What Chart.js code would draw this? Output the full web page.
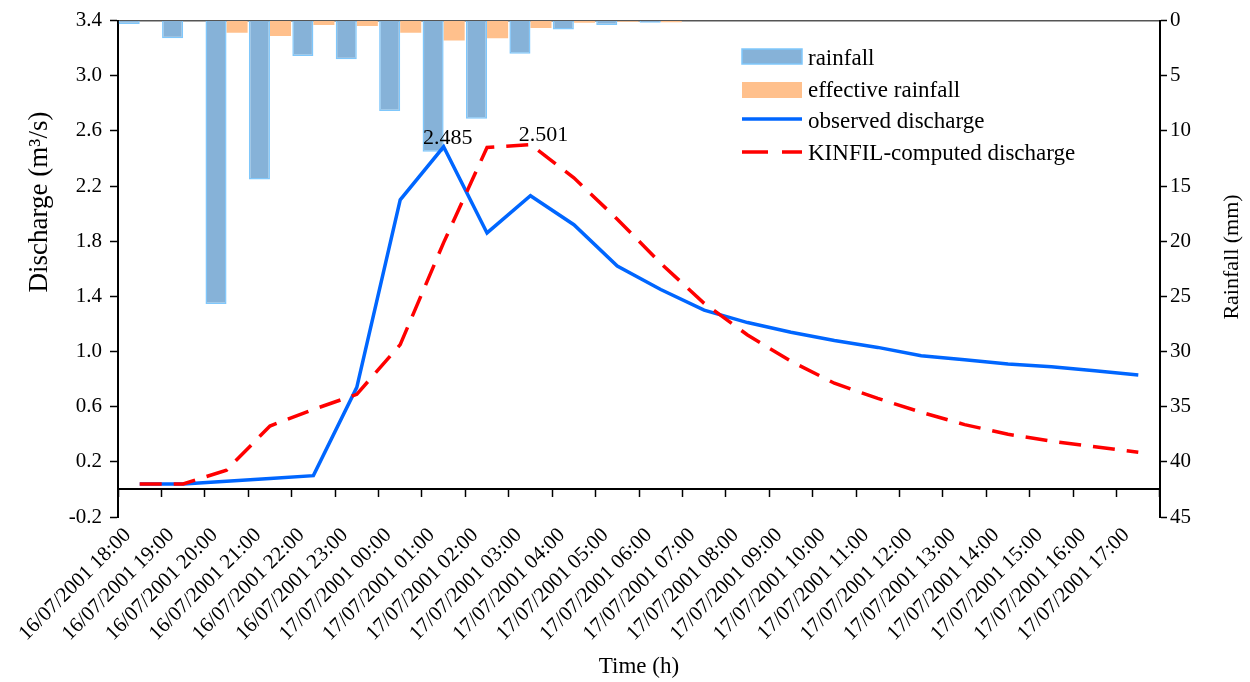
<!DOCTYPE html>
<html>
<head>
<meta charset="utf-8">
<script src="https://cdn.jsdelivr.net/npm/chart.js@4.4.1/dist/chart.umd.min.js"></script>
<style>
  html, body { margin: 0; padding: 0; background: #fff; }
</style>
</head>
<body>
<canvas id="chart" width="1250" height="682"></canvas>
<script>
// Hourly time steps
const timeLabels = [
    '16/07/2001 18:00', '16/07/2001 19:00', '16/07/2001 20:00', '16/07/2001 21:00',
    '16/07/2001 22:00', '16/07/2001 23:00', '17/07/2001 00:00', '17/07/2001 01:00',
    '17/07/2001 02:00', '17/07/2001 03:00', '17/07/2001 04:00', '17/07/2001 05:00',
    '17/07/2001 06:00', '17/07/2001 07:00', '17/07/2001 08:00', '17/07/2001 09:00',
    '17/07/2001 10:00', '17/07/2001 11:00', '17/07/2001 12:00', '17/07/2001 13:00',
    '17/07/2001 14:00', '17/07/2001 15:00', '17/07/2001 16:00', '17/07/2001 17:00'
];

// Rainfall (mm), right axis
const rainfall = [0.3, 1.6, 25.7, 14.4, 3.2, 3.5, 8.2, 11.9, 8.9, 3.0, 0.8, 0.4,
                  0.2, 0, 0, 0, 0, 0, 0, 0, 0, 0, 0, 0];
const effectiveRainfall = [0, 0, 1.1, 1.4, 0.4, 0.5, 1.1, 1.8, 1.6, 0.66, 0.2, 0.1,
                           0.15, 0, 0, 0, 0, 0, 0, 0, 0, 0, 0, 0];

// Discharge (m3/s), left axis
const observedDischarge = [0.04, 0.04, 0.06, 0.08, 0.10, 0.74, 2.10, 2.485, 1.86, 2.13, 1.92, 1.62,
                           1.45, 1.30, 1.21, 1.14, 1.08, 1.03, 0.97, 0.94, 0.91, 0.89, 0.86, 0.83];
const kinfilDischarge = [0.04, 0.04, 0.14, 0.46, 0.58, 0.69, 1.05, 1.79, 2.48, 2.501, 2.26, 1.96,
                         1.64, 1.35, 1.12, 0.93, 0.77, 0.66, 0.56, 0.47, 0.40, 0.35, 0.31, 0.27];

// Axis ranges
const dischargeAxis = { min: -0.2, max: 3.4, step: 0.4 };
const rainfallAxis = { min: 0, max: 45, step: 5 };

const FONT = "'Liberation Serif', 'Times New Roman', serif";
const BLUE_LINE = '#0066ff';
const RED_LINE = '#ff0000';
const RAIN_FILL = '#86b2d8';
const RAIN_BORDER = '#7fc7fb';
const EFF_FILL = '#ffc08c';

// Peak value labels (2.485 / 2.501)
const peakLabels = {
    id: 'peakLabels',
    afterDatasetsDraw(chart) {
        const ctx = chart.ctx;
        const offsets = { 2: [4, -3], 3: [13, -4] };
        ctx.save();
        ctx.font = `22px ${FONT}`;
        ctx.fillStyle = '#000';
        ctx.textAlign = 'center';
        ctx.textBaseline = 'alphabetic';
        [2, 3].forEach(idx => {
            const data = chart.data.datasets[idx].data;
            const peak = data.indexOf(Math.max(...data));
            const pt = chart.getDatasetMeta(idx).data[peak];
            const off = offsets[idx];
            ctx.fillText(data[peak].toFixed(3), pt.x + off[0], pt.y + off[1]);
        });
        ctx.restore();
    }
};

// Axis titles placed like the original figure
const axisTitles = {
    id: 'axisTitles',
    afterDraw(chart) {
        const ctx = chart.ctx;
        ctx.save();
        ctx.fillStyle = '#000';
        ctx.textAlign = 'center';
        ctx.textBaseline = 'middle';

        ctx.translate(40, 202);
        ctx.rotate(-Math.PI / 2);
        ctx.font = `27px ${FONT}`;
        ctx.fillText('Discharge (m³/s)', 0, 0);
        ctx.restore();

        ctx.save();
        ctx.fillStyle = '#000';
        ctx.textAlign = 'center';
        ctx.textBaseline = 'middle';
        ctx.translate(1232, 257);
        ctx.rotate(-Math.PI / 2);
        ctx.font = `22px ${FONT}`;
        ctx.fillText('Rainfall (mm)', 0, 0);
        ctx.restore();
    }
};

// Legend drawn inside the plot area
const legendBox = {
    id: 'legendBox',
    afterDraw(chart) {
        const ctx = chart.ctx;
        const x = 742, w = 60, tx = 808;
        ctx.save();
        ctx.font = `23px ${FONT}`;
        ctx.fillStyle = '#000';
        ctx.textBaseline = 'alphabetic';

        ctx.fillStyle = RAIN_FILL;
        ctx.fillRect(x, 49, w, 15);
        ctx.strokeStyle = RAIN_BORDER;
        ctx.lineWidth = 1.5;
        ctx.strokeRect(x, 49, w, 15);
        ctx.fillStyle = '#000';
        ctx.fillText('rainfall', tx, 65);

        ctx.fillStyle = EFF_FILL;
        ctx.fillRect(x, 82, w, 16);
        ctx.fillStyle = '#000';
        ctx.fillText('effective rainfall', tx, 97);

        ctx.strokeStyle = BLUE_LINE;
        ctx.lineWidth = 3.5;
        ctx.beginPath();
        ctx.moveTo(x, 119);
        ctx.lineTo(x + w, 119);
        ctx.stroke();
        ctx.fillText('observed discharge', tx, 128);

        ctx.strokeStyle = RED_LINE;
        ctx.setLineDash([26, 14]);
        ctx.beginPath();
        ctx.moveTo(x, 152);
        ctx.lineTo(x + w, 152);
        ctx.stroke();
        ctx.setLineDash([]);
        ctx.fillText('KINFIL-computed discharge', tx, 160);
        ctx.restore();
    }
};

const tickFont = { family: FONT, size: 21 };

new Chart(document.getElementById('chart'), {
    type: 'bar',
    data: {
        labels: timeLabels,
        datasets: [
            {
                label: 'rainfall',
                data: rainfall,
                yAxisID: 'y2',
                backgroundColor: RAIN_FILL,
                borderColor: RAIN_BORDER,
                borderWidth: 1.5,
                categoryPercentage: 0.97,
                barPercentage: 1.0,
                order: 2
            },
            {
                label: 'effective rainfall',
                data: effectiveRainfall,
                yAxisID: 'y2',
                backgroundColor: EFF_FILL,
                borderWidth: 0,
                categoryPercentage: 0.97,
                barPercentage: 1.0,
                order: 3
            },
            {
                type: 'line',
                label: 'observed discharge',
                data: observedDischarge,
                yAxisID: 'y',
                borderColor: BLUE_LINE,
                borderWidth: 3.5,
                pointRadius: 0,
                tension: 0,
                fill: false,
                order: 1
            },
            {
                type: 'line',
                label: 'KINFIL-computed discharge',
                data: kinfilDischarge,
                yAxisID: 'y',
                borderColor: RED_LINE,
                borderWidth: 3.5,
                borderDash: [22, 12],
                pointRadius: 0,
                tension: 0,
                fill: false,
                order: 0
            }
        ]
    },
    options: {
        responsive: false,
        animation: false,
        devicePixelRatio: 1,
        layout: { padding: { top: 16, left: 0, right: 0, bottom: 0 } },
        plugins: {
            legend: { display: false },
            tooltip: { enabled: false }
        },
        scales: {
            x: {
                type: 'category',
                position: 'bottom',
                offset: true,
                grid: { display: false, drawTicks: false },
                border: { display: false },
                ticks: {
                    autoSkip: false,
                    minRotation: 45,
                    maxRotation: 45,
                    padding: 6,
                    labelOffset: -12,
                    color: '#000',
                    font: tickFont
                },
                title: {
                    display: true,
                    text: 'Time (h)',
                    color: '#000',
                    font: { family: FONT, size: 23 },
                    padding: { top: 0, bottom: 1 }
                },
                afterFit(scale) { scale.height = 165; }
            },
            // axis line crossing at discharge = 0
            x2: {
                type: 'category',
                axis: 'x',
                position: { y: 0 },
                offset: true,
                grid: { offset: true, drawOnChartArea: false, tickLength: 7, tickColor: '#000', tickWidth: 1.5 },
                border: { color: '#000', width: 2 },
                ticks: { display: false },
                afterFit(scale) { scale.height = 0; }
            },
            // top frame line
            x3: {
                type: 'category',
                axis: 'x',
                position: 'top',
                grid: { drawOnChartArea: false, drawTicks: false },
                border: { color: '#555', width: 1.5 },
                ticks: { display: false },
                afterFit(scale) { scale.height = 0; }
            },
            y: {
                type: 'linear',
                position: 'left',
                min: dischargeAxis.min,
                max: dischargeAxis.max,
                grid: { drawOnChartArea: false, tickLength: 8, tickColor: '#000', tickWidth: 1.5 },
                border: { color: '#000', width: 2 },
                ticks: {
                    stepSize: dischargeAxis.step,
                    padding: 8,
                    color: '#000',
                    font: tickFont,
                    callback: v => v.toFixed(1)
                },
                afterFit(scale) { scale.width = 118; }
            },
            y2: {
                type: 'linear',
                position: 'right',
                reverse: true,
                min: rainfallAxis.min,
                max: rainfallAxis.max,
                grid: { drawOnChartArea: false, tickLength: 7, tickColor: '#000', tickWidth: 1.5 },
                border: { color: '#000', width: 2 },
                ticks: {
                    stepSize: rainfallAxis.step,
                    padding: 3,
                    color: '#000',
                    font: tickFont
                },
                afterFit(scale) { scale.width = 90; }
            }
        }
    },
    plugins: [peakLabels, axisTitles, legendBox]
});
</script>
</body>
</html>
